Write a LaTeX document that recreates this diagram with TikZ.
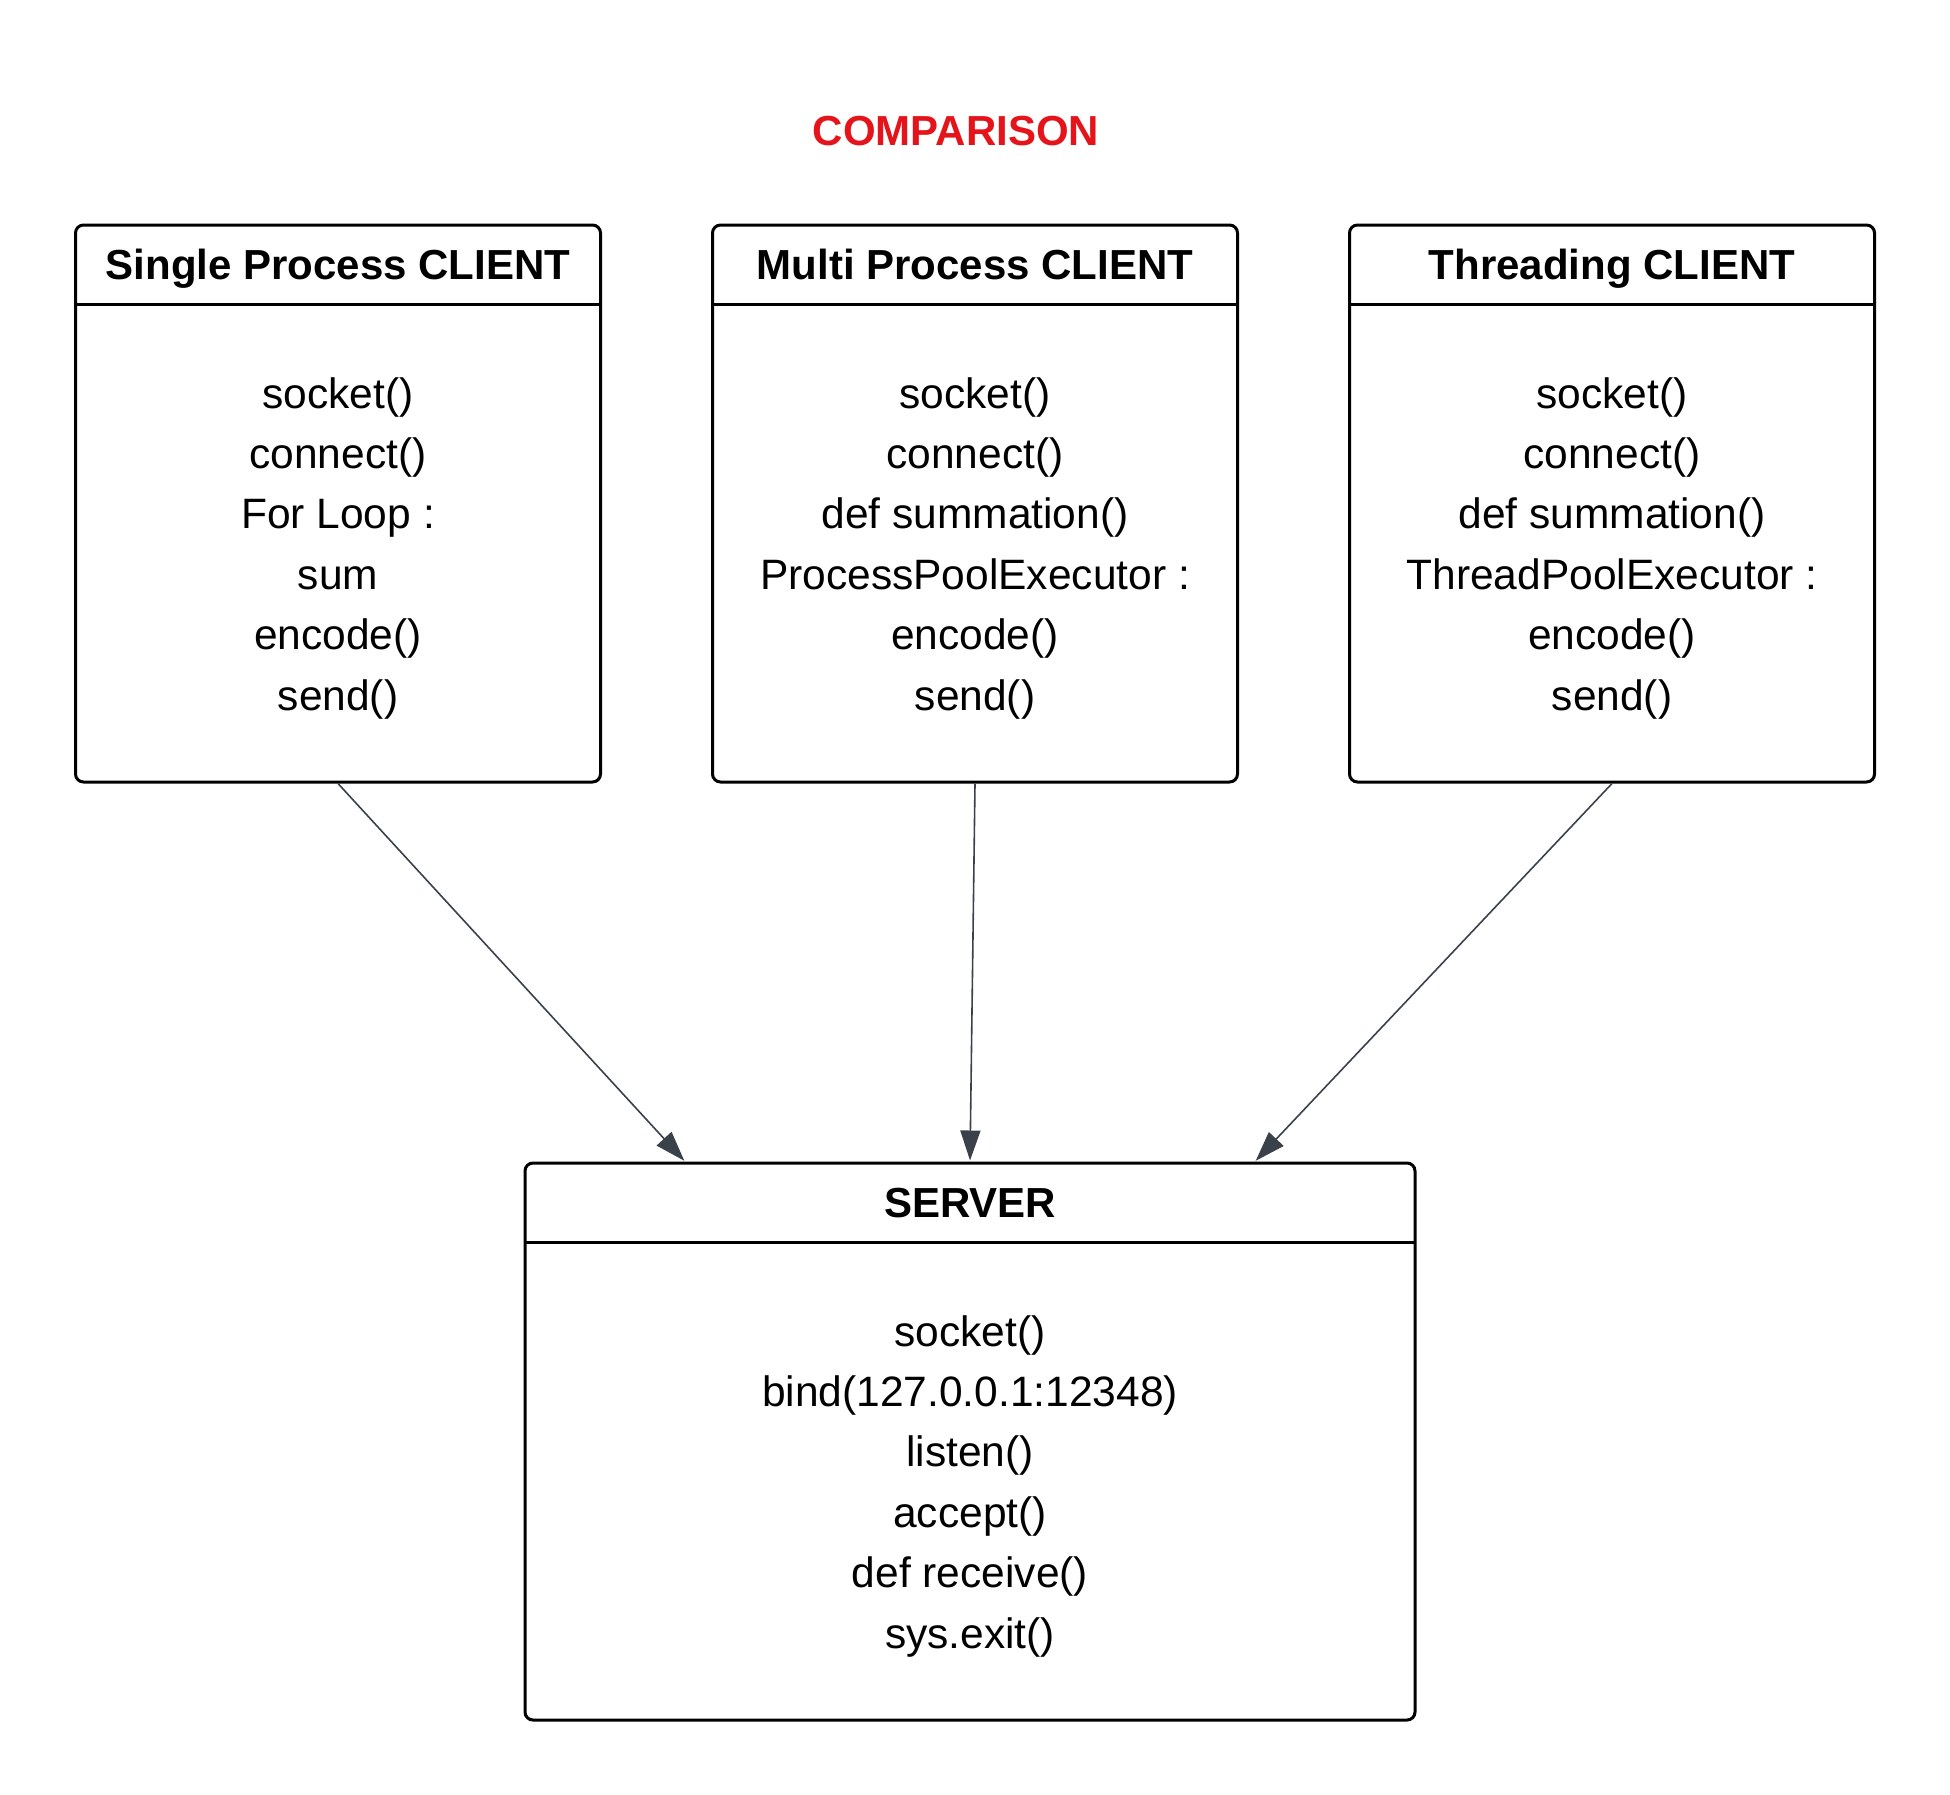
\documentclass[tikz,border=0pt]{standalone}
\usepackage{fontspec}
\setmainfont{Liberation Sans}
\usetikzlibrary{arrows.meta,positioning,calc}
\definecolor{ink}{HTML}{000000}
\definecolor{wire}{HTML}{3B414B}
\definecolor{alert}{HTML}{E5141B}

\begin{document}
\begin{tikzpicture}[x=1pt, y=-1pt, text=ink,
  frame/.style={draw=ink, line width=3pt, rounded corners=8pt, minimum width=#1, minimum height=557pt, inner sep=0pt},
  frame/.default=525pt,
  head/.style={minimum width=#1, minimum height=81pt, inner sep=0pt, text height=30pt, text depth=0pt,
    font=\fontsize{42}{50}\selectfont\bfseries},
  head/.default=525pt,
  body/.style={align=center, minimum height=476pt, inner sep=0pt, yshift=-5pt, font=\fontsize{42.5}{60.4}\selectfont},
  rule/.style={draw=ink, line width=3pt},
  flow/.style={-{Triangle[length=30pt,width=20pt]}, draw=wire, line width=1.6pt, shorten >=1pt}
]
\useasboundingbox (0,0) rectangle (1950,1794);

% ---- title
\node[font=\fontsize{42}{50}\selectfont\bfseries, text=alert] (title) at (956,131) {COMPARISON};

% ---- clients
\node[frame] (sp) at (338,503.5) {};
\node[head, below=0pt of sp.north] (sphead) {Single Process CLIENT};
\draw[rule] (sphead.south west) -- (sphead.south east);
\node[body, below=0pt of sphead] (spbody) {socket()\\connect()\\For Loop :\\sum\\encode()\\send()};

\node[frame] (mp) at (975,503.5) {};
\node[head, below=0pt of mp.north] (mphead) {Multi Process CLIENT};
\draw[rule] (mphead.south west) -- (mphead.south east);
\node[body, below=0pt of mphead] (mpbody) {socket()\\connect()\\def summation()\\ProcessPoolExecutor :\\encode()\\send()};

\node[frame] (th) at (1612,503.5) {};
\node[head, below=0pt of th.north] (thhead) {Threading CLIENT};
\draw[rule] (thhead.south west) -- (thhead.south east);
\node[body, below=0pt of thhead] (thbody) {socket()\\connect()\\def summation()\\ThreadPoolExecutor :\\encode()\\send()};

% ---- server
\node[frame=890pt] (srv) at (970,1441.5) {};
\node[head=890pt, below=0pt of srv.north] (srvhead) {SERVER};
\draw[rule] (srvhead.south west) -- (srvhead.south east);
\node[body, below=0pt of srvhead] (srvbody) {socket()\\bind(127.0.0.1:12348)\\listen()\\accept()\\def receive()\\sys.exit()};

% ---- connections
\coordinate (srvinl) at ($(srv.north)+(-285,0)$);
\coordinate (srvinr) at ($(srv.north)+(285,0)$);
\draw[flow] (sp.south) -- (srvinl);
\draw[flow] (mp.south) -- (srv.north);
\draw[flow] (th.south) -- (srvinr);
\end{tikzpicture}
\end{document}
